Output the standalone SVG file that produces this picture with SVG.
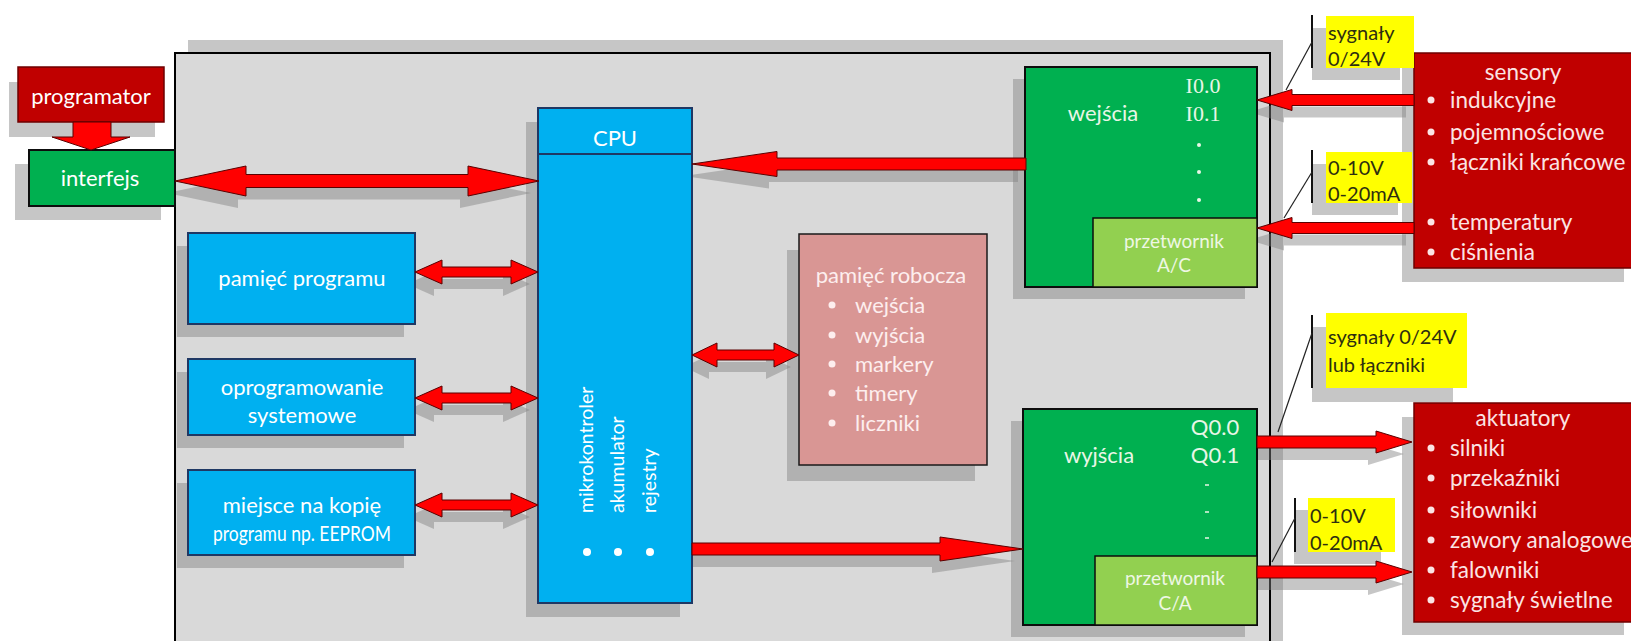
<svg xmlns="http://www.w3.org/2000/svg" xmlns:xlink="http://www.w3.org/1999/xlink" width="1631" height="641" viewBox="0 0 1631 641">
<style>
  text { font-family: Lato, "Open Sans", "Liberation Sans", sans-serif; }
  .sh { fill: #808080; fill-opacity: 0.45; }
  .frame { fill: #d9d9d9; stroke: #000; stroke-width: 2; }
  .blue { fill: #00b0f0; stroke: #1f3864; stroke-width: 2; }
  .green { fill: #00b050; stroke: #0d0d0d; stroke-width: 2; }
  .lgreen { fill: #92d050; stroke: #0d0d0d; stroke-width: 1.5; }
  .red { fill: #c00000; stroke: #6e0000; stroke-width: 1.5; }
  .pink { fill: #d99694; stroke: #1a1a1a; stroke-width: 1.5; }
  .yel { fill: #ffff00; }
  .bar { stroke: #111; stroke-width: 2; fill: none; }
  .lead { stroke: #222; stroke-width: 1.2; fill: none; }
  .t { fill: #ffffff; font-size: 22px; }
  .tv { fill: #ffffff; font-size: 19.5px; }
  .tc { text-anchor: middle; }
  .tg { fill: #e8f6e6; font-size: 22px; }
  .ts { fill: #eef7e4; font-size: 19px; text-anchor: middle; }
  .tr { fill: #fbe4e4; font-size: 22.5px; }
  .tp { fill: #fdeeee; font-size: 22px; }
  .ty { fill: #2e2e10; font-size: 20px; }
  .serif { font-family: "Liberation Serif", "DejaVu Serif", serif; }
  .dot { fill: #ffffff; }
  .arr { fill: #ff0000; stroke: #5a0000; stroke-width: 1; stroke-linejoin: miter; }
  .ash { fill: #808080; fill-opacity: 0.45; }
</style>
<defs>
  <!-- bus arrows; drawn once as shadow, once in red -->
  <path id="a1" d="M175,181 L246,166 L246,174.5 L468,174.5 L468,166 L539,181 L468,196 L468,187.5 L246,187.5 L246,196 Z"/>
  <path id="a2" d="M415,272 L442,260 L442,267 L511,267 L511,260 L538,272 L511,284 L511,277 L442,277 L442,284 Z"/>
  <path id="a3" d="M415,398 L442,386 L442,393 L511,393 L511,386 L538,398 L511,410 L511,403 L442,403 L442,410 Z"/>
  <path id="a4" d="M415,505 L442,493 L442,500 L511,500 L511,493 L538,505 L511,517 L511,510 L442,510 L442,517 Z"/>
  <path id="a5" d="M692,355 L717,343 L717,350 L774,350 L774,343 L799,355 L774,367 L774,360 L717,360 L717,367 Z"/>
  <path id="a6" d="M692,164 L777,151.5 L777,158 L1026,158 L1026,170 L777,170 L777,176.5 Z"/>
  <path id="a7" d="M692,543 L940,543 L940,537 L1023,549 L940,561 L940,555 L692,555 Z"/>
  <path id="a8" d="M1414,94.5 L1292,94.5 L1292,89.5 L1257,100 L1292,110.5 L1292,105.5 L1414,105.5 Z"/>
  <path id="a9" d="M1414,222.5 L1292,222.5 L1292,217.5 L1257,228 L1292,238.5 L1292,233.5 L1414,233.5 Z"/>
  <path id="a10" d="M1257,436 L1376,436 L1376,431 L1412,442 L1376,453 L1376,448 L1257,448 Z"/>
  <path id="a11" d="M1257,566 L1376,566 L1376,561 L1412,572 L1376,583 L1376,578 L1257,578 Z"/>
  <path id="a12" d="M73,122 L111,122 L111,137 L130,137 L91,150 L52,137 L73,137 Z"/>
</defs>

<rect width="1631" height="641" fill="#ffffff"/>

<!-- PLC housing -->
<g id="plc">
  <rect class="sh" x="188" y="40" width="1095" height="620"/>
  <rect class="frame" x="175" y="53" width="1095" height="600"/>
</g>

<!-- arrow shadows -->
<g id="connector-shadows" class="ash">
  <use href="#a1" transform="translate(-8,12)"/>
  <use href="#a2" transform="translate(-8,12)"/>
  <use href="#a3" transform="translate(-8,12)"/>
  <use href="#a4" transform="translate(-8,12)"/>
  <use href="#a5" transform="translate(-8,12)"/>
  <use href="#a6" transform="translate(-8,12)"/>
  <use href="#a7" transform="translate(-8,12)"/>
  <use href="#a8" transform="translate(-8,12)"/>
  <use href="#a9" transform="translate(-8,12)"/>
  <use href="#a10" transform="translate(-8,12)"/>
  <use href="#a11" transform="translate(-8,12)"/>
</g>

<g id="programator">
  <rect class="sh" x="9" y="82" width="146" height="55"/>
  <rect class="red" x="18" y="67" width="146" height="55"/>
  <text class="t tc" x="91" y="104" font-size="23">programator</text>
</g>

<g id="interfejs">
  <rect class="sh" x="15" y="164" width="146" height="56"/>
  <rect fill="#00b050" stroke="#0d0d0d" stroke-width="2" x="29" y="150" width="146" height="56"/>
  <text class="t tc" x="100" y="186">interfejs</text>
</g>

<g id="pamiec-programu">
  <rect class="sh" x="177" y="246" width="227" height="91"/>
  <rect class="blue" x="188" y="233" width="227" height="91"/>
  <text class="t tc" x="302" y="286">pamięć programu</text>
</g>

<g id="oprogramowanie">
  <rect class="sh" x="177" y="372" width="227" height="76"/>
  <rect class="blue" x="188" y="359" width="227" height="76"/>
  <text class="t tc" x="302" y="395">oprogramowanie</text>
  <text class="t tc" x="302" y="423">systemowe</text>
</g>

<g id="eeprom">
  <rect class="sh" x="177" y="483" width="227" height="85"/>
  <rect class="blue" x="188" y="470" width="227" height="85"/>
  <text class="t tc" x="302" y="513">miejsce na kopię</text>
  <text class="t tc" x="302" y="541" textLength="178" lengthAdjust="spacingAndGlyphs">programu np. EEPROM</text>
</g>

<g id="cpu">
  <rect class="sh" x="526" y="122" width="154" height="495"/>
  <rect class="blue" x="538" y="108" width="154" height="495"/>
  <line x1="538" y1="154" x2="692" y2="154" stroke="#1f3864" stroke-width="2"/>
  <text class="t tc" x="615" y="146" font-size="17">CPU</text>
  <text class="tv" transform="translate(593,513) rotate(-90)">mikrokontroler</text>
  <text class="tv" transform="translate(624,513) rotate(-90)">akumulator</text>
  <text class="tv" transform="translate(656,513) rotate(-90)">rejestry</text>
  <circle class="dot" cx="587" cy="552" r="4"/>
  <circle class="dot" cx="618" cy="552" r="4"/>
  <circle class="dot" cx="650" cy="552" r="4"/>
</g>

<g id="pamiec-robocza">
  <rect class="sh" x="787" y="250" width="188" height="231"/>
  <rect class="pink" x="799" y="234" width="188" height="231"/>
  <text class="tp tc" x="891" y="283">pamięć robocza</text>
  <g class="tp">
    <circle cx="832" cy="305" r="3.5"/><text x="855" y="313">wejścia</text>
    <circle cx="832" cy="335" r="3.5"/><text x="855" y="343">wyjścia</text>
    <circle cx="832" cy="364" r="3.5"/><text x="855" y="372">markery</text>
    <circle cx="832" cy="393" r="3.5"/><text x="855" y="401">timery</text>
    <circle cx="832" cy="423" r="3.5"/><text x="855" y="431">liczniki</text>
  </g>
</g>

<g id="wejscia">
  <rect class="sh" x="1013" y="79" width="232" height="220"/>
  <rect class="green" x="1025" y="67" width="232" height="220"/>
  <text class="tg tc" x="1103" y="121">wejścia</text>
  <text class="tg tc serif" x="1203" y="93" font-size="23">I0.0</text>
  <text class="tg tc serif" x="1203" y="121" font-size="23">I0.1</text>
  <circle fill="#e8f6e6" cx="1199" cy="145" r="2"/>
  <circle fill="#e8f6e6" cx="1199" cy="172" r="2"/>
  <circle fill="#e8f6e6" cx="1199" cy="200" r="2"/>
  <g id="przetwornik-ac">
    <rect class="lgreen" x="1093" y="218" width="164" height="69"/>
    <text class="ts" x="1174" y="248">przetwornik</text>
    <text class="ts" x="1174" y="272">A/C</text>
  </g>
</g>

<g id="wyjscia">
  <rect class="sh" x="1011" y="421" width="234" height="216"/>
  <rect class="green" x="1023" y="409" width="234" height="216"/>
  <text class="tg tc" x="1099" y="463">wyjścia</text>
  <text class="tg tc" x="1215" y="435" font-size="21">Q0.0</text>
  <text class="tg tc" x="1215" y="463" font-size="21">Q0.1</text>
  <g stroke="#e8f6e6" stroke-width="1.5">
    <line x1="1205" y1="485" x2="1209" y2="485"/>
    <line x1="1205" y1="512" x2="1209" y2="512"/>
    <line x1="1205" y1="538" x2="1209" y2="538"/>
  </g>
  <g id="przetwornik-ca">
    <rect class="lgreen" x="1095" y="556" width="162" height="69"/>
    <text class="ts" x="1175" y="585">przetwornik</text>
    <text class="ts" x="1175" y="610">C/A</text>
  </g>
</g>

<g id="sensory">
  <rect class="sh" x="1402" y="67" width="222" height="215"/>
  <rect class="red" x="1414" y="53" width="218" height="215"/>
  <text class="tr tc" x="1523" y="80">sensory</text>
  <g class="tr">
    <circle cx="1431" cy="100" r="3.5"/><text x="1450" y="108">indukcyjne</text>
    <circle cx="1431" cy="132" r="3.5"/><text x="1450" y="140">pojemnościowe</text>
    <circle cx="1431" cy="162" r="3.5"/><text x="1450" y="170">łączniki krańcowe</text>
    <circle cx="1431" cy="222" r="3.5"/><text x="1450" y="230">temperatury</text>
    <circle cx="1431" cy="252" r="3.5"/><text x="1450" y="260">ciśnienia</text>
  </g>
</g>

<g id="aktuatory">
  <rect class="sh" x="1402" y="417" width="222" height="218"/>
  <rect class="red" x="1414" y="403" width="218" height="219"/>
  <text class="tr tc" x="1523" y="426">aktuatory</text>
  <g class="tr">
    <circle cx="1431" cy="448" r="3.5"/><text x="1450" y="456">silniki</text>
    <circle cx="1431" cy="478" r="3.5"/><text x="1450" y="486">przekaźniki</text>
    <circle cx="1431" cy="510" r="3.5"/><text x="1450" y="518">siłowniki</text>
    <circle cx="1431" cy="540" r="3.5"/><text x="1450" y="548">zawory analogowe</text>
    <circle cx="1431" cy="570" r="3.5"/><text x="1450" y="578">falowniki</text>
    <circle cx="1431" cy="600" r="3.5"/><text x="1450" y="608">sygnały świetlne</text>
  </g>
</g>

<!-- signal callouts -->
<g id="callout-in-digital">
  <rect class="sh" x="1312" y="28" width="88" height="52"/>
  <rect class="yel" x="1326" y="16" width="88" height="52"/>
  <line class="bar" x1="1312" y1="15" x2="1312" y2="68"/>
  <line class="lead" x1="1312" y1="42" x2="1286" y2="90"/>
  <text class="ty" x="1328" y="40">sygnały</text>
  <text class="ty" x="1328" y="66">0/24V</text>
</g>

<g id="callout-in-analog">
  <rect class="sh" x="1312" y="164" width="86" height="51"/>
  <rect class="yel" x="1326" y="152" width="86" height="51"/>
  <line class="bar" x1="1312" y1="150" x2="1312" y2="203"/>
  <line class="lead" x1="1312" y1="172" x2="1284" y2="218"/>
  <text class="ty" x="1328" y="175">0-10V</text>
  <text class="ty" x="1328" y="201">0-20mA</text>
</g>

<g id="callout-out-digital">
  <rect class="sh" x="1312" y="327" width="141" height="75"/>
  <rect class="yel" x="1326" y="313" width="141" height="75"/>
  <line class="bar" x1="1312" y1="315" x2="1312" y2="388"/>
  <line class="lead" x1="1312" y1="333" x2="1278" y2="432"/>
  <text class="ty" x="1328" y="344">sygnały 0/24V</text>
  <text class="ty" x="1328" y="372">lub łączniki</text>
</g>

<g id="callout-out-analog">
  <rect class="sh" x="1294" y="510" width="87" height="54"/>
  <rect class="yel" x="1308" y="498" width="87" height="54"/>
  <line class="bar" x1="1295" y1="498" x2="1295" y2="552"/>
  <line class="lead" x1="1295" y1="518" x2="1272" y2="562"/>
  <text class="ty" x="1310" y="523">0-10V</text>
  <text class="ty" x="1310" y="550">0-20mA</text>
</g>

<!-- red bus / signal arrows -->
<g id="connectors" class="arr">
  <use href="#a12"/>
  <use href="#a1"/>
  <use href="#a2"/>
  <use href="#a3"/>
  <use href="#a4"/>
  <use href="#a5"/>
  <use href="#a6"/>
  <use href="#a7"/>
  <use href="#a8"/>
  <use href="#a9"/>
  <use href="#a10"/>
  <use href="#a11"/>
</g>
</svg>
